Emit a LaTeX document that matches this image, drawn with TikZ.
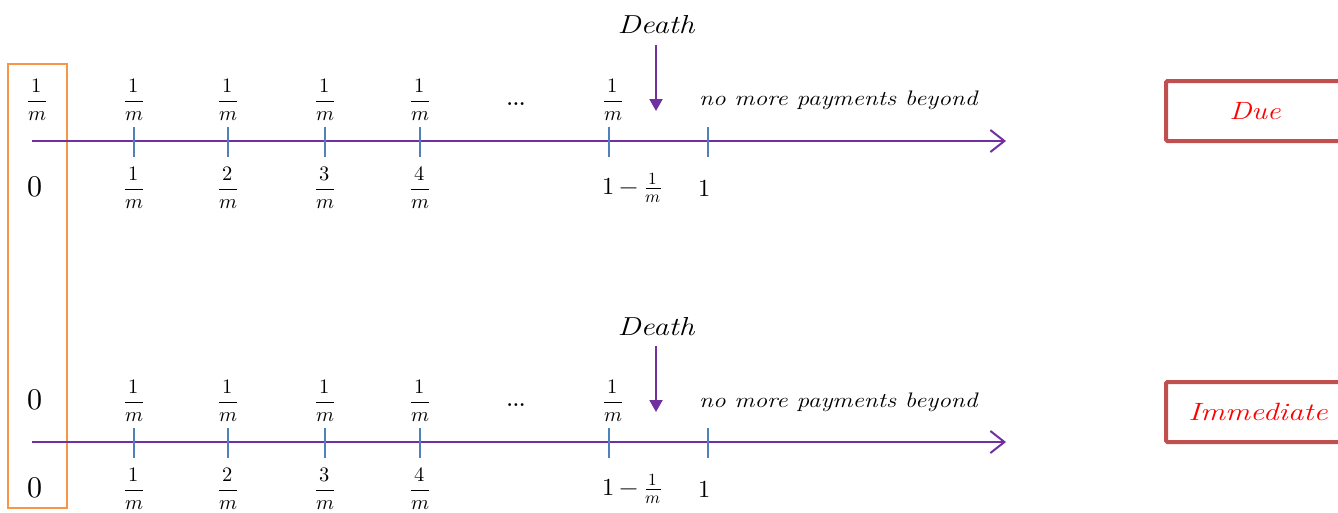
\documentclass[tikz,border=0pt]{standalone}
\usepackage{amsmath}
\usepackage{unicode-math}
\setmathfont{Latin Modern Math}
\usetikzlibrary{arrows.meta}
\definecolor{axispurple}{HTML}{7030A0}
\definecolor{tickblue}{HTML}{4F81BD}
\definecolor{boxorange}{HTML}{F79646}
\definecolor{boxred}{HTML}{C0504D}
\newcommand{\widetxt}[1]{\scalebox{1.2}[1]{#1}}
\newcommand{\fr}[2]{\genfrac{}{}{1.6pt}{0}{#1}{#2}}
\tikzset{
  axisline/.style={draw=axispurple, line width=2pt, -{Straight Barb[length=14pt,width=22pt,line width=2pt]}},
  tickline/.style={draw=tickblue, line width=1.6pt},
  frac/.style={inner sep=0pt, font=\fontsize{20.5}{20.5}\selectfont},
  dotslbl/.style={inner sep=0pt, font=\fontsize{20}{20}\selectfont\bfseries},
  bignum/.style={inner sep=0pt, font=\fontsize{30}{30}\selectfont},
  midnum/.style={inner sep=0pt, font=\fontsize{24.5}{24.5}\selectfont},
  deathlbl/.style={inner sep=0pt, font=\fontsize{26}{26}\selectfont\itshape},
  notelbl/.style={inner sep=0pt, anchor=west, font=\fontsize{21}{21}\selectfont\itshape},
  deatharrow/.style={draw=axispurple, line width=2pt, -{Triangle[length=12pt,width=13pt]}},
  kindbox/.style={draw=boxred, line width=4pt, rounded corners=1.5pt, minimum width=180pt, minimum height=60pt, inner sep=0pt},
  kindlbl/.style={inner sep=0pt, text=red, font=\fontsize{25}{25}\selectfont\itshape},
  groupbox/.style={draw=boxorange, line width=2pt}
}
\begin{document}
\begin{tikzpicture}[x=1pt,y=-1pt]
\useasboundingbox (0,0) rectangle (1338,512);

% orange bracket box
\draw[groupbox] (8,64) rectangle (67,508);

% ---------- top timeline (Due) ----------
\coordinate (ta0) at (32,141);
\coordinate (ta1) at (1006,141);
\draw[axisline] (ta0) -- (ta1);
\foreach \x/\n in {134/a,228/b,325/c,420/d,609/e,708/f}{
  \coordinate (tt\n1) at (\x,127);
  \coordinate (tt\n2) at (\x,157);
  \draw[tickline] (tt\n1) -- (tt\n2);
}
\node[frac] (tp0) at (37,100) {$\fr{1}{m}$};
\node[frac] (tp1) at (134,100) {$\fr{1}{m}$};
\node[frac] (tp2) at (228,100) {$\fr{1}{m}$};
\node[frac] (tp3) at (325,100) {$\fr{1}{m}$};
\node[frac] (tp4) at (420,100) {$\fr{1}{m}$};
\node[dotslbl] (tdots) at (516,104) {...};
\node[frac] (tp5) at (613,100) {$\fr{1}{m}$};
\node[bignum] (tz) at (35,187) {$0$};
\node[frac] (tb1) at (134,188) {$\fr{1}{m}$};
\node[frac] (tb2) at (228,188) {$\fr{2}{m}$};
\node[frac] (tb3) at (325,188) {$\fr{3}{m}$};
\node[frac] (tb4) at (420,188) {$\fr{4}{m}$};
\node[midnum] (tbl) at (632,188) {$1-\tfrac{1}{m}$};
\node[midnum] (tone) at (705,188) {$1$};
\node[deathlbl] (tdeath) at (656,25) {\widetxt{Death}};
\coordinate (tdeathstart) at (656,45);
\coordinate (tdeathend) at (656,111);
\draw[deatharrow] (tdeathstart) -- (tdeathend);
\node[notelbl] (tnote) at (699,100) {\widetxt{no more payments beyond}};
\node[kindbox] (due) at (1256,111) {};
\node[kindlbl] (duelbl) at (1255,111) {\widetxt{Due}};

% ---------- bottom timeline (Immediate) ----------
\coordinate (ba0) at (32,442);
\coordinate (ba1) at (1006,442);
\draw[axisline] (ba0) -- (ba1);
\foreach \x/\n in {134/a,228/b,325/c,420/d,609/e,708/f}{
  \coordinate (bt\n1) at (\x,428);
  \coordinate (bt\n2) at (\x,458);
  \draw[tickline] (bt\n1) -- (bt\n2);
}
\node[bignum] (bp0) at (35,400) {$0$};
\node[frac] (bp1) at (134,401) {$\fr{1}{m}$};
\node[frac] (bp2) at (228,401) {$\fr{1}{m}$};
\node[frac] (bp3) at (325,401) {$\fr{1}{m}$};
\node[frac] (bp4) at (420,401) {$\fr{1}{m}$};
\node[dotslbl] (bdots) at (516,405) {...};
\node[frac] (bp5) at (613,401) {$\fr{1}{m}$};
\node[bignum] (bz) at (35,488) {$0$};
\node[frac] (bb1) at (134,489) {$\fr{1}{m}$};
\node[frac] (bb2) at (228,489) {$\fr{2}{m}$};
\node[frac] (bb3) at (325,489) {$\fr{3}{m}$};
\node[frac] (bb4) at (420,489) {$\fr{4}{m}$};
\node[midnum] (bbl) at (632,489) {$1-\tfrac{1}{m}$};
\node[midnum] (bone) at (705,489) {$1$};
\node[deathlbl] (bdeath) at (656,327) {\widetxt{Death}};
\coordinate (bdeathstart) at (656,346);
\coordinate (bdeathend) at (656,412);
\draw[deatharrow] (bdeathstart) -- (bdeathend);
\node[notelbl] (bnote) at (699,402) {\widetxt{no more payments beyond}};
\node[kindbox] (imm) at (1256,412) {};
\node[kindlbl] (immlbl) at (1258,412) {\scalebox{1.25}[1]{Immediate}};
\end{tikzpicture}
\end{document}
